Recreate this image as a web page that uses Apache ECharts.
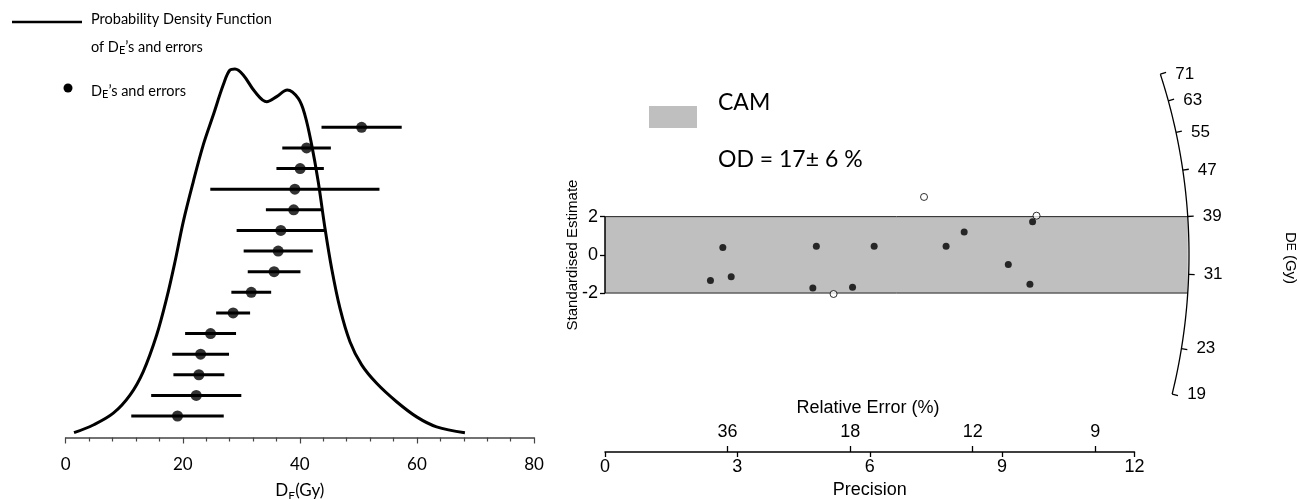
<!DOCTYPE html>
<html>
<head>
<meta charset="utf-8">
<script src="https://cdn.jsdelivr.net/npm/echarts@6/dist/echarts.min.js"></script>
<style>
  html, body { margin: 0; padding: 0; background: #fff; }
  #chart { width: 1299px; height: 499px; }
</style>
</head>
<body>
<div id="chart"></div>
<script>
// ---------------- DATA ----------------
// Left panel: individual De values (Gy) and their 1-sigma errors, ordered bottom -> top
const deValues = [19.1, 22.3, 22.75, 23.05, 24.75, 28.6, 31.7, 35.6, 36.3, 36.75, 38.95, 39.15, 40.05, 41.15, 50.55];
const deErrors = [7.9, 7.7, 4.35, 4.85, 4.35, 2.9, 3.4, 4.5, 5.9, 7.55, 4.75, 14.45, 4.05, 4.15, 6.85];
// Probability density function (relative density)
const pdfDose    = [1.42, 4.71, 8.13, 10.98, 13.25, 15.54, 17.25, 18.67, 20.09, 21.79, 23.50, 25.21, 26.92, 28.06, 28.92, 30.33, 32.33, 34.33, 36.04, 37.85, 39.73, 40.87, 42.02, 43.14, 44.29, 45.43, 46.85, 48.56, 50.56, 53.12, 56.53, 59.95, 63.36, 68.20];
const pdfDensity = [0.013, 0.034, 0.066, 0.115, 0.179, 0.278, 0.378, 0.477, 0.586, 0.694, 0.794, 0.875, 0.957, 0.997, 1.000, 0.984, 0.938, 0.911, 0.925, 0.943, 0.920, 0.875, 0.794, 0.694, 0.568, 0.459, 0.351, 0.260, 0.197, 0.147, 0.097, 0.056, 0.029, 0.013];
const doseTicks = [0, 20, 40, 60, 80];

// Right panel: radial plot (precision, standardised estimate)
const precisionIn = [2.39, 2.67, 2.86, 4.71, 4.79, 5.61, 6.10, 7.73, 8.14, 9.14, 9.63, 9.69];
const stdEstIn    = [-1.34, 0.39, -1.15, -1.74, 0.45, -1.69, 0.45, 0.45, 1.19, -0.50, -1.54, 1.73];
const precisionOut = [5.18, 7.23, 9.78];
const stdEstOut    = [-2.05, 3.03, 2.05];
const precisionTicks = [0, 3, 6, 9, 12];
const relErrTicks = [36, 18, 12, 9];          // relative error (%)
const stdTicks = [-2, 0, 2];
const arcTicks = [19, 23, 31, 39, 47, 55, 63, 71]; // De (Gy) on radial axis
const centralDose = 33.5;                     // CAM central value (Gy)
const bandHalfWidth = 2;

// ---------------- LAYOUT CONSTANTS ----------------
const ARC_PRECISION = 13.235; // where the radial arc crosses the centre line
const F_CAL = 'Lato, "Open Sans", sans-serif';
const F_ARIAL = '"Liberation Sans", Arial, sans-serif';

const chart = echarts.init(document.getElementById('chart'), null, { renderer: 'canvas' });

const errData = deValues.map((v, i) => [v - deErrors[i], v + deErrors[i], i + 1]);
const ptData = deValues.map((v, i) => [v, i + 1]);
const pdfData = pdfDose.map((d, i) => [d, pdfDensity[i]]);
const inData = precisionIn.map((p, i) => [p, stdEstIn[i]]);
const outData = precisionOut.map((p, i) => [p, stdEstOut[i]]);

function renderErr(params, api) {
  const a = api.coord([api.value(0), api.value(2)]);
  const b = api.coord([api.value(1), api.value(2)]);
  return { type: 'line', shape: { x1: a[0], y1: a[1], x2: b[0], y2: b[1] },
           style: { stroke: '#000', lineWidth: 3 } };
}

function radialGeom(api) {
  const o = api.coord([0, 0]);
  const e = api.coord([ARC_PRECISION, 0]);
  const R = e[0] - o[0];
  const unit = api.size([1, 1]);
  const dir = v => {
    const m = Math.log(v / centralDose);
    const dx = unit[0], dy = -m * unit[1];
    const L = Math.hypot(dx, dy);
    return [dx / L, dy / L];
  };
  return { o, R, dir };
}

function renderBand(params, api) {
  const g = radialGeom(api);
  const top = api.coord([0, bandHalfWidth]);
  const bot = api.coord([0, -bandHalfWidth]);
  const dyT = g.o[1] - top[1];
  const xr = g.o[0] + Math.sqrt(g.R * g.R - dyT * dyT);
  return { type: 'group', children: [
    { type: 'rect', shape: { x: top[0], y: top[1], width: xr - top[0], height: bot[1] - top[1] },
      style: { fill: '#BFBFBF', stroke: null } },
    { type: 'line', shape: { x1: top[0], y1: top[1], x2: xr, y2: top[1] }, style: { stroke: '#222', lineWidth: 1 } },
    { type: 'line', shape: { x1: bot[0], y1: bot[1], x2: xr, y2: bot[1] }, style: { stroke: '#222', lineWidth: 1 } },
    { type: 'line', shape: { x1: top[0], y1: top[1], x2: top[0], y2: bot[1] }, style: { stroke: '#000', lineWidth: 1.5 } }
  ]};
}

function renderArc(params, api) {
  const g = radialGeom(api);
  const vmax = Math.max(...arcTicks), vmin = Math.min(...arcTicks);
  const d1 = g.dir(vmax), d2 = g.dir(vmin);
  const a1 = Math.atan2(d1[1], d1[0]), a2 = Math.atan2(d2[1], d2[0]);
  const pts = [];
  const n = 80;
  for (let k = 0; k <= n; k++) {
    const a = a1 + (a2 - a1) * k / n;
    pts.push([g.o[0] + g.R * Math.cos(a), g.o[1] + g.R * Math.sin(a)]);
  }
  const children = [{ type: 'polyline', shape: { points: pts }, style: { stroke: '#000', lineWidth: 1.3, fill: null } }];
  arcTicks.forEach(v => {
    const d = g.dir(v);
    const p = [g.o[0] + g.R * d[0], g.o[1] + g.R * d[1]];
    const q = [g.o[0] + (g.R + 6) * d[0], g.o[1] + (g.R + 6) * d[1]];
    children.push({ type: 'line', shape: { x1: p[0], y1: p[1], x2: q[0], y2: q[1] }, style: { stroke: '#000', lineWidth: 1.3 } });
    children.push({ type: 'text', x: p[0] + 15, y: p[1],
      style: { text: String(v), font: '17px ' + F_ARIAL, fill: '#000', align: 'left', verticalAlign: 'middle' } });
  });
  return { type: 'group', children };
}

const option = {
  animation: false,
  backgroundColor: '#fff',
  grid: [
    { left: 65.7, width: 468.3, top: 69, height: 368.5, containLabel: false, outerBoundsMode: 'none' },
    { left: 605, width: 529.5, top: 63.8, height: 388.2, containLabel: false, outerBoundsMode: 'none' }
  ],
  xAxis: [
    { gridIndex: 0, type: 'value', min: 0, max: 80, interval: 20,
      axisLine: { show: true, lineStyle: { color: '#444', width: 1.5 } },
      axisTick: { show: true, length: 6, lineStyle: { color: '#444', width: 1.2 } },
      minorTick: { show: true, splitNumber: 5, length: 4, lineStyle: { color: '#444', width: 1.2 } },
      splitLine: { show: false },
      axisLabel: { fontFamily: F_CAL, fontSize: 17, color: '#000', margin: 19,
                   formatter: v => doseTicks.includes(v) ? String(v) : '' },
      name: '{a|D}{e|E}{a|(Gy)}', nameLocation: 'middle', nameGap: 41,
      nameTextStyle: { rich: {
        a: { fontFamily: F_CAL, fontSize: 17, color: '#000', lineHeight: 22, verticalAlign: 'middle' },
        e: { fontFamily: F_CAL, fontSize: 12, color: '#000', lineHeight: 24, verticalAlign: 'bottom' } } }
    },
    { gridIndex: 1, type: 'value', min: 0, max: 12, interval: 3,
      axisLine: { show: true, onZero: false, lineStyle: { color: '#000', width: 1.5 } },
      axisTick: { show: true, length: 5, lineStyle: { color: '#000', width: 1.3 } },
      splitLine: { show: false },
      axisLabel: { fontFamily: F_ARIAL, fontSize: 18, color: '#000', margin: 6 },
      name: 'Precision', nameLocation: 'middle', nameGap: 29,
      nameTextStyle: { fontFamily: F_ARIAL, fontSize: 18, color: '#000' }
    },
    { gridIndex: 1, type: 'value', min: 0, max: 12, position: 'bottom',
      axisLine: { show: false, onZero: false },
      axisTick: { show: true, inside: true, length: 6, lineStyle: { color: '#000', width: 1.3 },
                  customValues: relErrTicks.map(r => 100 / r) },
      splitLine: { show: false },
      axisLabel: { inside: true, fontFamily: F_ARIAL, fontSize: 18, color: '#000', margin: 11,
                   customValues: relErrTicks.map(r => 100 / r),
                   formatter: v => String(Math.round(100 / v)) }
    }
  ],
  yAxis: [
    { gridIndex: 0, type: 'value', min: 0, max: 1, show: false },
    { gridIndex: 0, type: 'value', min: -0.043, max: 17.83, show: false },
    { gridIndex: 1, type: 'value', min: -10.32, max: 10,
      axisLine: { show: false, onZero: false },
      axisTick: { show: true, length: 5, lineStyle: { color: '#000', width: 1.3 }, customValues: stdTicks },
      splitLine: { show: false },
      axisLabel: { fontFamily: F_ARIAL, fontSize: 18, color: '#000', margin: 7, customValues: stdTicks }
    }
  ],
  series: [
    { type: 'line', xAxisIndex: 0, yAxisIndex: 0, data: pdfData, smooth: 0.35, symbol: 'none', clip: false,
      lineStyle: { color: '#000', width: 3 } },
    { type: 'custom', xAxisIndex: 0, yAxisIndex: 1, data: errData, renderItem: renderErr, clip: false,
      encode: { x: [0, 1], y: 2 } },
    { type: 'scatter', xAxisIndex: 0, yAxisIndex: 1, data: ptData, symbol: 'circle', symbolSize: 11,
      itemStyle: { color: '#000' } },
    { type: 'custom', xAxisIndex: 1, yAxisIndex: 2, data: [[0, 0]], renderItem: renderBand, clip: false, z: 1 },
    { type: 'custom', xAxisIndex: 1, yAxisIndex: 2, data: [[0, 0]], renderItem: renderArc, clip: false, z: 2 },
    { type: 'scatter', xAxisIndex: 1, yAxisIndex: 2, data: inData, symbol: 'circle', symbolSize: 7, z: 5,
      itemStyle: { color: '#000' } },
    { type: 'scatter', xAxisIndex: 1, yAxisIndex: 2, data: outData, symbol: 'circle', symbolSize: 7, z: 5,
      itemStyle: { color: '#fff', borderColor: '#000', borderWidth: 1 } }
  ],
  graphic: [
    // left legend
    { type: 'line', shape: { x1: 12, y1: 22, x2: 82, y2: 22 }, style: { stroke: '#000', lineWidth: 2.5 } },
    { type: 'text', x: 91, y: 19, style: { text: 'Probability Density Function', font: '14.5px ' + F_CAL, fill: '#000', verticalAlign: 'middle' } },
    { type: 'text', x: 91, y: 47, style: { text: '{a|of D}{e|E}{a|’s and errors}', verticalAlign: 'middle',
        rich: { a: { font: '14.5px ' + F_CAL, fill: '#000', lineHeight: 18, verticalAlign: 'middle' },
                e: { font: '11px ' + F_CAL, fill: '#000', lineHeight: 18, verticalAlign: 'bottom' } } } },
    { type: 'circle', shape: { cx: 68, cy: 88, r: 4.5 }, style: { fill: '#000' } },
    { type: 'text', x: 91, y: 91, style: { text: '{a|D}{e|E}{a|’s and errors}', verticalAlign: 'middle',
        rich: { a: { font: '14.5px ' + F_CAL, fill: '#000', lineHeight: 18, verticalAlign: 'middle' },
                e: { font: '11px ' + F_CAL, fill: '#000', lineHeight: 18, verticalAlign: 'bottom' } } } },
    // CAM legend
    { type: 'rect', shape: { x: 649, y: 106, width: 48, height: 22 }, style: { fill: '#BFBFBF' } },
    { type: 'text', x: 718, y: 103, style: { text: 'CAM', font: '23px ' + F_CAL, fill: '#000', verticalAlign: 'middle' } },
    { type: 'text', x: 718, y: 160, style: { text: 'OD = 17± 6 %', font: '23px ' + F_CAL, fill: '#000', verticalAlign: 'middle' } },
    // right panel axis titles
    { type: 'text', x: 868, y: 408, style: { text: 'Relative Error (%)', font: '18px ' + F_ARIAL, fill: '#000', align: 'center', verticalAlign: 'middle' } },
    { type: 'text', x: 573, y: 255, rotation: Math.PI / 2, style: { text: 'Standardised Estimate', font: '15px ' + F_ARIAL, fill: '#000', align: 'center', verticalAlign: 'middle' } },
    { type: 'text', x: 1290, y: 258, rotation: -Math.PI / 2, style: { text: '{a|D}{e|E}{a| (Gy)}', align: 'center', verticalAlign: 'middle',
        rich: { a: { font: '15px ' + F_ARIAL, fill: '#000', lineHeight: 20, verticalAlign: 'middle' },
                e: { font: '12px ' + F_ARIAL, fill: '#000', lineHeight: 20, verticalAlign: 'middle' } } } }
  ]
};

chart.setOption(option);
</script>
</body>
</html>
